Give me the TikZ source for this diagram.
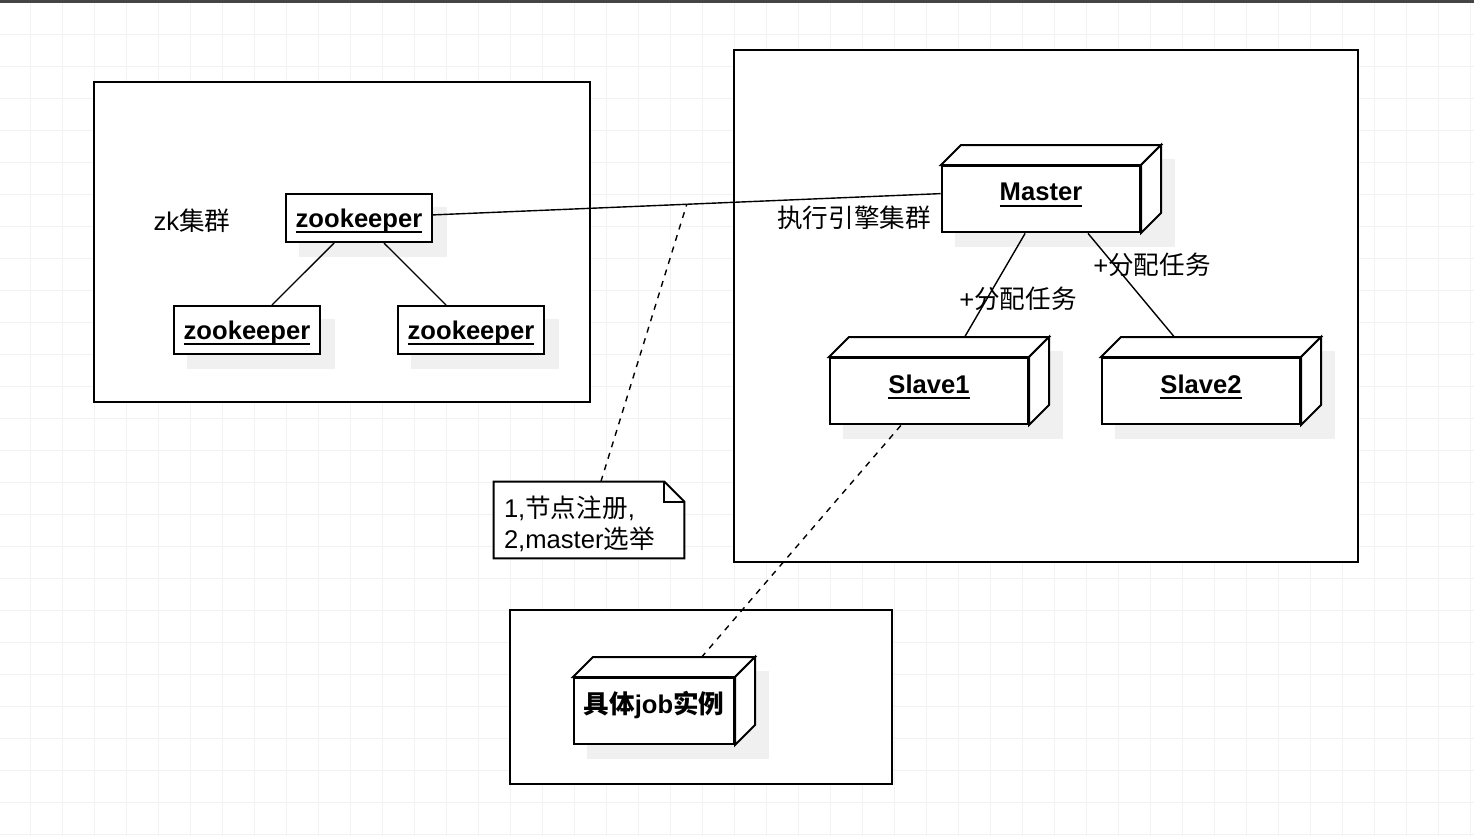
\documentclass[tikz,border=0pt]{standalone}
\usepackage{fontspec}
\setmainfont{Liberation Sans}
\setsansfont{Liberation Sans}
\newfontfamily\cjk{Noto Sans CJK SC}
\usetikzlibrary{calc,fit}

\pgfdeclarelayer{back}
\pgfdeclarelayer{shade}
\pgfsetlayers{back,shade,main}

\colorlet{gridcol}{black!5}
\colorlet{shadecol}{black!6}
\colorlet{barcol}{black!73}

% underlined label, thick rule
\newcommand{\ul}[1]{\begingroup\setbox0=\hbox{#1}\rlap{\copy0}\rule[-3pt]{\wd0}{1pt}\endgroup}
% move a label up/down inside its box without changing the box
\newcommand{\lift}[2]{\raisebox{#1}[\height][\depth]{#2}}

\begin{document}
\begin{tikzpicture}[
  x=0.5pt, y=-0.5pt,
  txt/.style={font=\fontsize{12.8}{15.5}\selectfont},
  zkbox/.style={draw, line width=1pt, fill=white, inner sep=0pt,
                minimum width=73pt, minimum height=24pt,
                font=\fontsize{12.8}{15.5}\selectfont\bfseries},
  face/.style={draw, line width=1pt, fill=white, inner sep=0pt,
               minimum width=99pt, minimum height=33pt,
               font=\fontsize{12.8}{15.5}\selectfont\bfseries},
  cube/.style={draw, line width=1pt, fill=white},
  whole/.style={inner sep=0pt, draw=none},
  group/.style={draw, line width=0.8pt, fill=white},
  shd/.style={fill=shadecol},
  gridline/.style={draw=gridcol, line width=0.5pt},
  conn/.style={line width=0.7pt},
  dep/.style={line width=0.7pt, dash pattern=on 3pt off 3pt},
  notebox/.style={inner xsep=5pt, inner ysep=3pt, text width=85pt,
                  minimum height=38pt, align=left,
                  font=\fontsize{12.8}{15.5}\selectfont},
]
\useasboundingbox (0,0) rectangle (1474,836);

% ---- Background grid and frames ---------------------------------------------
\begin{pgfonlayer}{back}
  \fill[white] (0,0) rectangle (1474,836);
  \foreach \gx in {0,...,45}
    \draw[gridline] ({30.5+32*\gx},0) -- ++(0,836);
  \foreach \gy in {1,...,26}
    \draw[gridline] (0,{2+32*\gy}) -- ++(1474,0);
  \fill[barcol] (0,0) rectangle (1474,2.5);
  \draw[group] (94,82) rectangle (590,402);
  \draw[group] (734,50) rectangle (1358,562);
  \draw[group] (510,610) rectangle (892,784);
\end{pgfonlayer}

% ---- zk cluster -------------------------------------------------------------
\node[txt] (zklab) at (192,221) {zk{\cjk 集群}};
\node[zkbox] (zk1) at (359,218) {\lift{-1.5pt}{\ul{zookeeper}}};
\node[zkbox] (zk2) at (247,330) {\lift{-1.5pt}{\ul{zookeeper}}};
\node[zkbox] (zk3) at (471,330) {\lift{-1.5pt}{\ul{zookeeper}}};

% ---- Engine cluster ---------------------------------------------------------
\node[txt] (englab) at (854,218) {{\cjk 执行引擎集群}};
\node[face] (master) at (1041,199) {\lift{2pt}{\ul{Master}}};
\node[face] (slave1) at (929,391) {\lift{2pt}{\ul{Slave1}}};
\node[face] (slave2) at (1201,391) {\lift{2pt}{\ul{Slave2}}};

% ---- Job instance -----------------------------------------------------------
\node[face, minimum width=80pt] (job) at (654,711)
  {\lift{3pt}{{\cjk 具体}job{\cjk 实例}}};

% ---- 3D sides, outer boxes and shadows ----------------------------------------
\foreach \n in {master,slave1,slave2,job} {
  \draw[cube] (\n.north west) -- ++(20,-20)
    -- ($(\n.north east)+(20,-20)$) -- (\n.north east) -- cycle;
  \draw[cube] (\n.north east) -- ++(20,-20)
    -- ($(\n.south east)+(20,-20)$) -- (\n.south east) -- cycle;
  \coordinate (\n-c) at ($(\n.north east)+(20,-20)$);
  \node[whole, fit=(\n)(\n-c)] (\n-box) {};
  \begin{pgfonlayer}{shade}
    \fill[shd] ($(\n-box.north west)+(14,14)$) rectangle ($(\n-box.south east)+(14,14)$);
  \end{pgfonlayer}
}
\begin{pgfonlayer}{shade}
  \foreach \n in {zk1,zk2,zk3}
    \fill[shd] ($(\n.north west)+(14,14)$) rectangle ($(\n.south east)+(14,14)$);
\end{pgfonlayer}

% ---- Note ---------------------------------------------------------------------
\node[notebox] (note) at (589,520) {\rule{0pt}{14.3pt}1,{\cjk 节点注册},\\2,master{\cjk 选举}};
\begin{pgfonlayer}{shade}
  \filldraw[line width=1pt, fill=white] (note.south west) -- (note.north west)
    -- ($(note.north east)+(-20,0)$) -- ($(note.north east)+(0,20)$)
    -- (note.south east) -- cycle;
\end{pgfonlayer}
\draw[line width=1pt] ($(note.north east)+(-20,0)$) |- ($(note.north east)+(0,20)$);

% ---- Connectors ---------------------------------------------------------------
\draw[conn] (zk1) -- (zk2);
\draw[conn] (zk1) -- (zk3);
\draw[conn] (zk1) -- coordinate[pos=0.5] (reg) (master-box);
\draw[conn] (master-box) -- (slave1-box);
\draw[conn] (master-box) -- (slave2-box);
\node[txt] (task1) at (1018,299) {+{\cjk 分配任务}};
\node[txt] (task2) at (1152,265) {+{\cjk 分配任务}};
\draw[dep] (note) -- (reg);
\draw[dep] (slave1-box) -- (job-box);

\end{tikzpicture}
\end{document}
